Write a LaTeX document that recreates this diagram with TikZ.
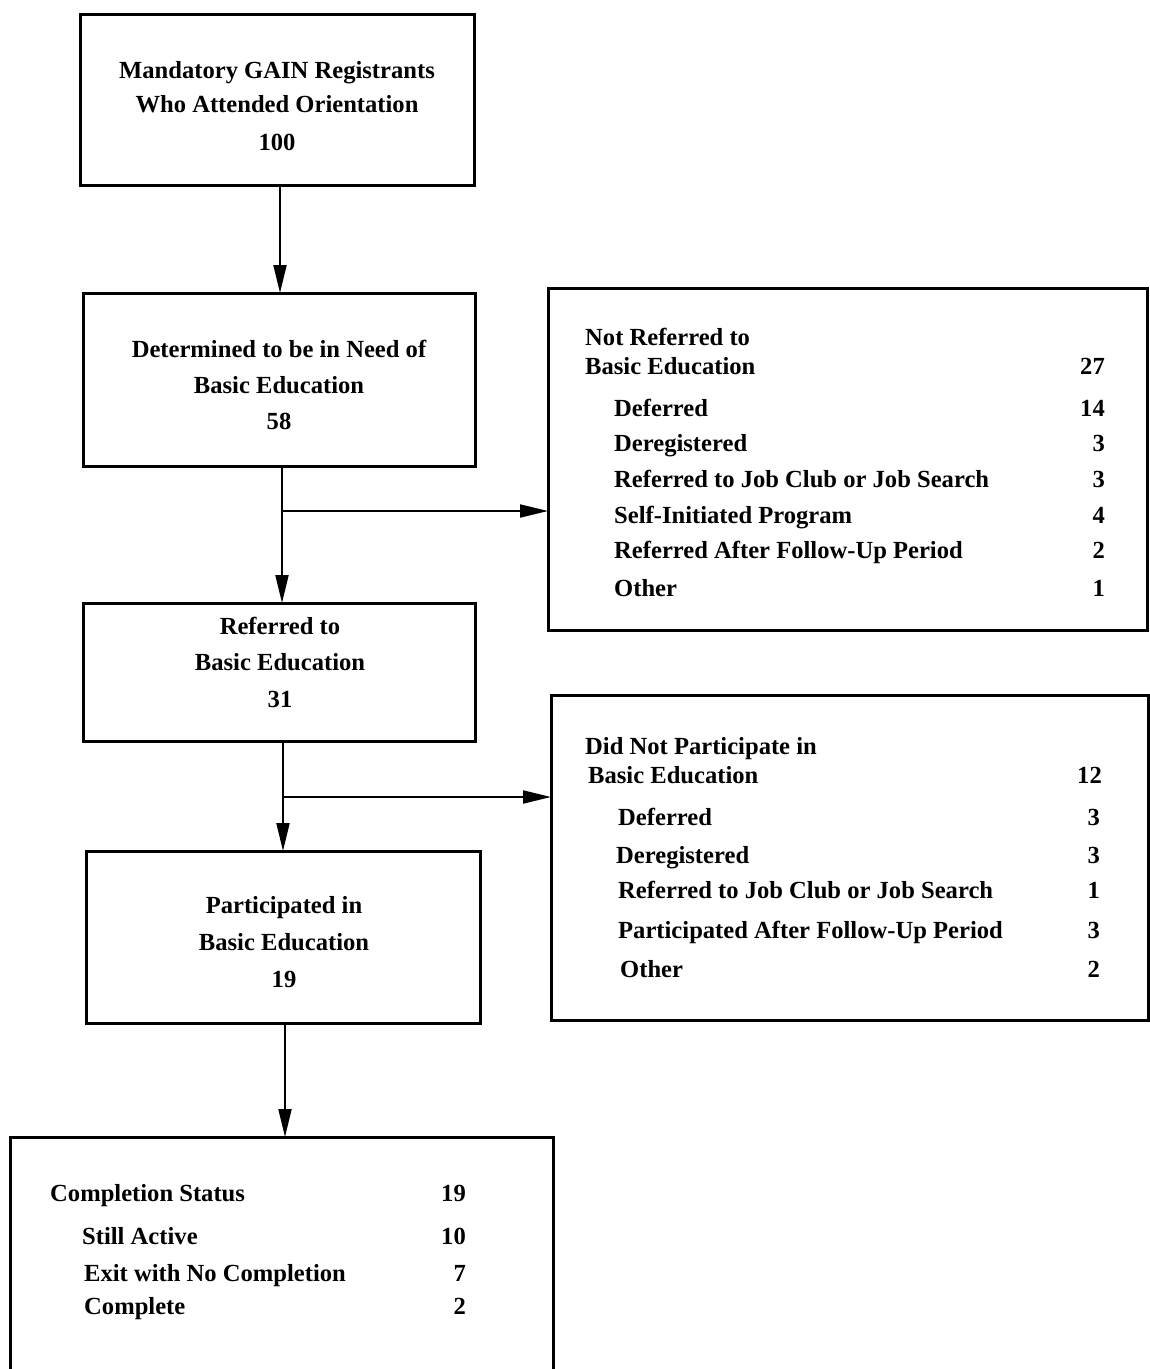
\documentclass[tikz,border=0pt]{standalone}
\usepackage{fontspec}
\setmainfont{Liberation Serif}
\usetikzlibrary{arrows.meta}
\begin{document}
\begin{tikzpicture}[x=1pt,y=-1pt,
  box/.style={draw, line width=3pt, rectangle, inner sep=0pt, outer sep=0pt},
  txt/.style={inner sep=0pt, font=\fontsize{24.6}{29}\selectfont\bfseries},
  ctr/.style={txt, anchor=base},
  lft/.style={txt, anchor=base west},
  rgt/.style={txt, anchor=base east},
  conn/.style={line width=2pt},
  arr/.style={line width=2pt, -{Triangle[length=28pt,width=13pt]}}]
\useasboundingbox (0,0) rectangle (1150,1369);
% boxes
\node[box, minimum width=394pt, minimum height=171pt] (b1) at (277,99.5) {};
\node[box, minimum width=392pt, minimum height=173pt] (b2) at (279,379.5) {};
\node[box, minimum width=392pt, minimum height=138pt] (b3) at (279,672) {};
\node[box, minimum width=394pt, minimum height=172pt] (b5) at (283,937) {};
\node[box, minimum width=543pt, minimum height=235pt] (b7) at (281.5,1254.5) {};
\node[box, minimum width=599pt, minimum height=342pt] (b4) at (847.5,459) {};
\node[box, minimum width=597pt, minimum height=325pt] (b6) at (849.5,857.5) {};
% box 1
\node[ctr] (t1a) at (277,78) {Mandatory GAIN Registrants};
\node[ctr] (t1b) at (277,112) {Who Attended Orientation};
\node[ctr] (t1c) at (277,150) {100};
% box 2
\node[ctr] (t2a) at (279,357) {Determined to be in Need of};
\node[ctr] (t2b) at (279,393) {Basic Education};
\node[ctr] (t2c) at (279,429) {58};
% box 3
\node[ctr] (t3a) at (280,634) {Referred to};
\node[ctr] (t3b) at (280,670) {Basic Education};
\node[ctr] (t3c) at (280,707) {31};
% box 5
\node[ctr] (t5a) at (284,913) {Participated in};
\node[ctr] (t5b) at (284,950) {Basic Education};
\node[ctr] (t5c) at (284,987) {19};
% box 4
\node[lft] (t4a) at (585,345) {Not Referred to};
\node[lft] (t4b) at (585,374) {Basic Education};
\node[rgt] (n4b) at (1105,374) {27};
\node[lft] (t4c) at (614,416) {Deferred};
\node[rgt] (n4c) at (1105,416) {14};
\node[lft] (t4d) at (614,451) {Deregistered};
\node[rgt] (n4d) at (1105,451) {3};
\node[lft] (t4e) at (614,487) {Referred to Job Club or Job Search};
\node[rgt] (n4e) at (1105,487) {3};
\node[lft] (t4f) at (614,523) {Self-Initiated Program};
\node[rgt] (n4f) at (1105,523) {4};
\node[lft] (t4g) at (614,558) {Referred After Follow-Up Period};
\node[rgt] (n4g) at (1105,558) {2};
\node[lft] (t4h) at (614,596) {Other};
\node[rgt] (n4h) at (1105,596) {1};
% box 6
\node[lft] (t6a) at (585,754) {Did Not Participate in};
\node[lft] (t6b) at (588,783) {Basic Education};
\node[rgt] (n6b) at (1102,783) {12};
\node[lft] (t6c) at (618,825) {Deferred};
\node[rgt] (n6c) at (1100,825) {3};
\node[lft] (t6d) at (616,863) {Deregistered};
\node[rgt] (n6d) at (1100,863) {3};
\node[lft] (t6e) at (618,898) {Referred to Job Club or Job Search};
\node[rgt] (n6e) at (1100,898) {1};
\node[lft] (t6f) at (618,938) {Participated After Follow-Up Period};
\node[rgt] (n6f) at (1100,938) {3};
\node[lft] (t6g) at (620,977) {Other};
\node[rgt] (n6g) at (1100,977) {2};
% box 7
\node[lft] (t7a) at (50,1201) {Completion Status};
\node[rgt] (n7a) at (466,1201) {19};
\node[lft] (t7b) at (82,1244) {Still Active};
\node[rgt] (n7b) at (466,1244) {10};
\node[lft] (t7c) at (84,1281) {Exit with No Completion};
\node[rgt] (n7c) at (466,1281) {7};
\node[lft] (t7d) at (84,1314) {Complete};
\node[rgt] (n7d) at (466,1314) {2};
% connectors
\coordinate (y1) at (0,511);
\coordinate (y2) at (0,797);
\coordinate (x1) at (280,0);
\coordinate (x2) at (282,0);
\coordinate (x3) at (283,0);
\coordinate (x4) at (285,0);
\draw[arr] (x1 |- b1.south) -- (x1 |- b2.north);
\draw[arr] (x2 |- b2.south) -- (x2 |- b3.north);
\coordinate (j1) at (x2 |- y1);
\draw[arr] (j1) -- (j1 -| b4.west);
\draw[arr] (x3 |- b3.south) -- (x3 |- b5.north);
\coordinate (j2) at (x3 |- y2);
\draw[arr] (j2) -- (j2 -| b6.west);
\draw[arr] (x4 |- b5.south) -- (x4 |- b7.north);
\end{tikzpicture}
\end{document}
